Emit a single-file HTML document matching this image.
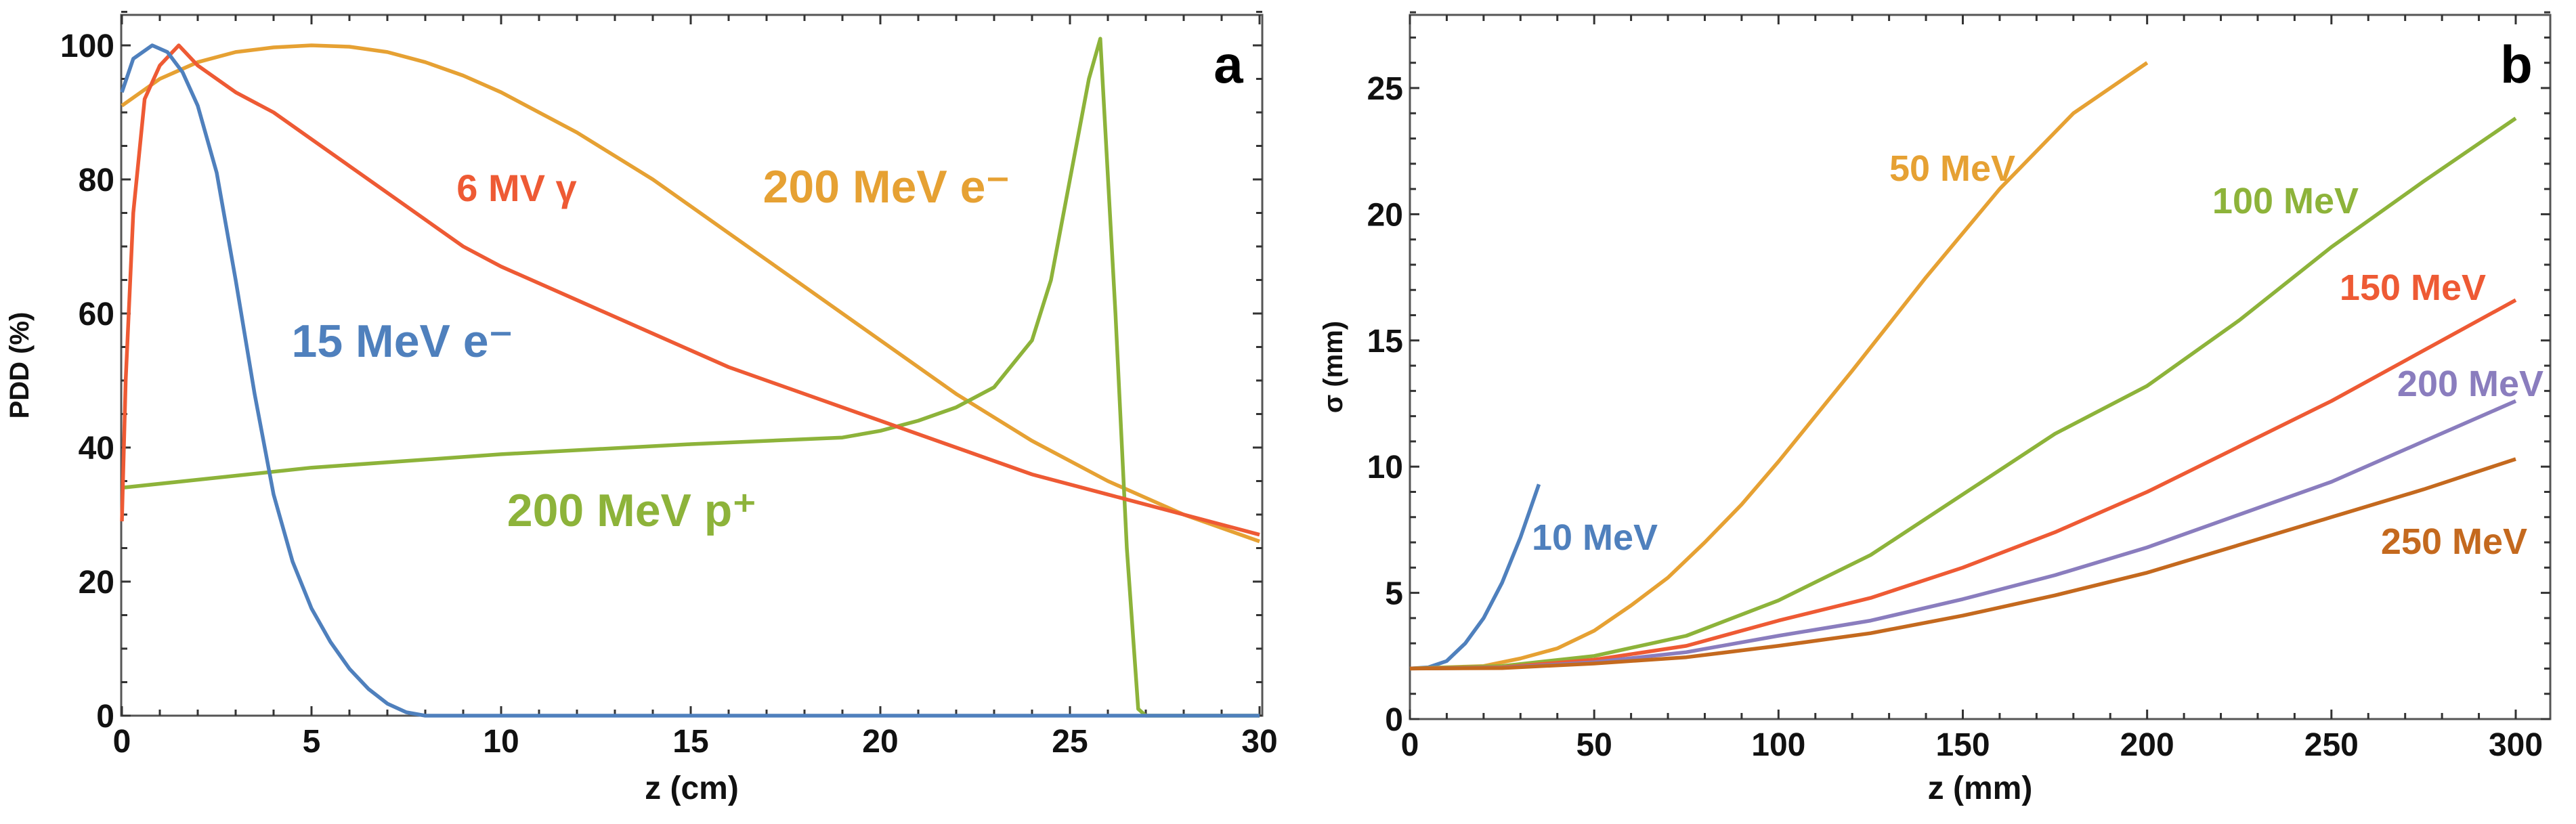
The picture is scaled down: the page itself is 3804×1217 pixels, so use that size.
<!DOCTYPE html>
<html><head><meta charset="utf-8">
<style>
html,body{margin:0;padding:0;background:#fff;}
svg{display:block;}
text{font-family:"Liberation Sans Narrow","Liberation Sans",sans-serif;font-weight:bold;}
</style></head>
<body>
<svg id="fig" width="3804" height="1217" viewBox="0 0 3804 1217" xmlns="http://www.w3.org/2000/svg"></svg>
<script>
// Panel a data
const aBlueX=[0,0.3,0.8,1.2,1.6,2,2.5,3,3.5,4,4.5,5,5.5,6,6.5,7,7.5,8,30];
const aBlueY=[93,98,100,99,96,91,81,65,48,33,23,16,11,7,4,1.8,0.5,0,0];
const aRedX=[0,0.1,0.3,0.6,1,1.5,2,3,4,5,6,7,8,9,10,12,14,16,18,20,22,24,26,28,30];
const aRedY=[29,50,75,92,97,100,97,93,90,86,82,78,74,70,67,62,57,52,48,44,40,36,33,30,27];
const aOrX=[0,1,2,3,4,5,6,7,8,9,10,12,14,16,18,20,22,24,26,28,30];
const aOrY=[91,95,97.5,99,99.7,100,99.8,99,97.5,95.5,93,87,80,72,64,56,48,41,35,30,26];
const aGrX=[0,5,10,15,19,20,21,22,23,24,24.5,25,25.5,25.8,26.2,26.5,26.8,27,30];
const aGrY=[34,37,39,40.5,41.5,42.5,44,46,49,56,65,80,95,101,60,25,1,0,0];
const aXTicks=[0,5,10,15,20,25,30];
const aYTicks=[0,20,40,60,80,100];
// Panel b data
const b10X=[0,5,10,15,20,25,30,35];
const b10Y=[2,2.05,2.3,3,4,5.4,7.2,9.3];
const b50X=[0,20,30,40,50,60,70,80,90,100,120,140,160,180,190,200];
const b50Y=[2,2.1,2.4,2.8,3.5,4.5,5.6,7,8.5,10.2,13.8,17.5,21,24,25,26];
const b100X=[0,25,50,75,100,125,150,175,200,225,250,275,300];
const b100Y=[2,2.1,2.5,3.3,4.7,6.5,8.9,11.3,13.2,15.8,18.7,21.3,23.8];
const b150X=[0,25,50,75,100,125,150,175,200,225,250,275,300];
const b150Y=[2,2.05,2.35,2.9,3.9,4.8,6,7.4,9,10.8,12.6,14.6,16.6];
const b200X=[0,25,50,75,100,125,150,175,200,225,250,275,300];
const b200Y=[2,2.03,2.25,2.65,3.3,3.9,4.75,5.7,6.8,8.1,9.4,11,12.6];
const b250X=[0,25,50,75,100,125,150,175,200,225,250,275,300];
const b250Y=[2,2.02,2.2,2.45,2.9,3.4,4.1,4.9,5.8,6.9,8,9.1,10.3];
const bXTicks=[0,50,100,150,200,250,300];
const bYTicks=[0,5,10,15,20,25];

const NS="http://www.w3.org/2000/svg";
const svg=document.getElementById('fig');
function mk(tag,attrs,parent){const e=document.createElementNS(NS,tag);for(const k in attrs)e.setAttribute(k,attrs[k]);(parent||svg).appendChild(e);return e;}

function panel(o){
  const g=mk('g',{});
  
  
  const sx=v=>o.x0+(v-o.xmin)/(o.xmax-o.xmin)*(o.x1-o.x0);
  const sy=v=>o.y0-(v-o.ymin)/(o.ymax-o.ymin)*(o.y0-o.y1);
  const fr=mk('rect',{x:o.L,y:o.T,width:o.R-o.L,height:o.B-o.T,fill:'none',stroke:'#555','stroke-width':3},g);
  
  
  for(let v=o.xmin;v<=o.xmax+1e-9;v+=o.xminor){const X=sx(v);const maj=Math.abs(v/o.xmajor-Math.round(v/o.xmajor))<1e-6;const l=maj?14:9;
    mk('line',{x1:X,y1:o.B,x2:X,y2:o.B-l,stroke:'#333','stroke-width':3},g);
    mk('line',{x1:X,y1:o.T,x2:X,y2:o.T+l,stroke:'#333','stroke-width':3},g);}
  for(let v=o.ymin;v<=o.ymaxT+1e-9;v+=o.yminor){const Y=sy(v);const maj=Math.abs(v/o.ymajor-Math.round(v/o.ymajor))<1e-6;const l=maj?14:9;
    mk('line',{x1:o.L,y1:Y,x2:o.L+l,y2:Y,stroke:'#333','stroke-width':3},g);
    mk('line',{x1:o.R,y1:Y,x2:o.R-l,y2:Y,stroke:'#333','stroke-width':3},g);}
  o.xt.forEach(v=>{const t=mk('text',{x:sx(v),y:o.B+54,'text-anchor':'middle','font-size':48,fill:'#111'},g);t.textContent=v;
    });
  o.yt.forEach(v=>{const t=mk('text',{x:o.L-10,y:sy(v)+17,'text-anchor':'end','font-size':48,fill:'#111'},g);t.textContent=v;
    });
  const xt=mk('text',{x:(o.L+o.R)/2,y:1180,'text-anchor':'middle','font-size':48,fill:'#111'},g);xt.textContent=o.xtitle;
  
  const yt=mk('text',{x:0,y:0,'text-anchor':'middle','font-size':40,fill:'#111',transform:`translate(${o.ytx},${(o.T+o.B)/2}) rotate(-90)`},g);yt.textContent=o.ytitle;
  
  const pl=mk('text',{x:o.R-50,y:o.T+100,'text-anchor':'middle','font-size':78,fill:'#000','font-family':'Liberation Sans'},g);pl.textContent=o.letter;
  
  o.series.forEach(s=>{
    const d=s.x.map((v,i)=>(i?'L':'M')+sx(v).toFixed(1)+','+sy(s.y[i]).toFixed(1)).join(' ');
    const p=mk('path',{d:d,fill:'none',stroke:s.c,'stroke-width':5.5,'stroke-linejoin':'round'},g);
    
  });
  o.labels.forEach(l=>{const t=mk('text',{x:l.x,y:l.y,'text-anchor':'middle','font-size':l.fs||64,fill:l.c},g);t.textContent=l.t;
    });
}

panel({name:'panel-a',L:179,R:1864,T:22,B:1057,x0:180,x1:1860,xmin:0,xmax:30,y0:1057,y1:67,ymin:0,ymax:100,ymaxT:105,
  xminor:1,xmajor:5,yminor:5,ymajor:20,xt:aXTicks,yt:aYTicks,xtitle:'z (cm)',ytitle:'PDD (%)',ytx:42,letter:'a',
  series:[{x:aOrX,y:aOrY,c:'#E6A133',name:'series-200mev-electron'},{x:aGrX,y:aGrY,c:'#8DB33A',name:'series-200mev-proton'},
          {x:aRedX,y:aRedY,c:'#EE5A34',name:'series-6mv-photon'},{x:aBlueX,y:aBlueY,c:'#4F80BD',name:'series-15mev-electron'}],
  labels:[{x:763,y:297,t:'6 MV γ',c:'#EE5A34',name:'label-6mv-photon',fs:56},{x:1309,y:299,t:'200 MeV e⁻',c:'#E6A133',name:'label-200mev-electron',fs:68},
          {x:594,y:527,t:'15 MeV e⁻',c:'#4F80BD',name:'label-15mev-electron',fs:68},{x:933,y:777,t:'200 MeV p⁺',c:'#8DB33A',name:'label-200mev-proton',fs:68}]});

panel({name:'panel-b',L:2082,R:3766,T:22,B:1062,x0:2082,x1:3715,xmin:0,xmax:300,y0:1062,y1:130,ymin:0,ymax:25,ymaxT:28,
  xminor:10,xmajor:50,yminor:1,ymajor:5,xt:bXTicks,yt:bYTicks,xtitle:'z (mm)',ytitle:'σ (mm)',ytx:1982,letter:'b',
  series:[{x:b10X,y:b10Y,c:'#4F80BD',name:'series-10mev'},{x:b50X,y:b50Y,c:'#E6A133',name:'series-50mev'},
          {x:b100X,y:b100Y,c:'#8DB33A',name:'series-100mev'},{x:b150X,y:b150Y,c:'#EE5A34',name:'series-150mev'},
          {x:b200X,y:b200Y,c:'#8A7DBE',name:'series-200mev'},{x:b250X,y:b250Y,c:'#C4691E',name:'series-250mev'}],
  labels:[{x:2883,y:267,t:'50 MeV',c:'#E6A133',name:'label-50mev',fs:54},{x:3375,y:315,t:'100 MeV',c:'#8DB33A',name:'label-100mev',fs:54},
          {x:3563,y:443,t:'150 MeV',c:'#EE5A34',name:'label-150mev',fs:54},{x:3648,y:585,t:'200 MeV',c:'#8A7DBE',name:'label-200mev',fs:54},
          {x:2355,y:812,t:'10 MeV',c:'#4F80BD',name:'label-10mev',fs:54},{x:3624,y:818,t:'250 MeV',c:'#C4691E',name:'label-250mev',fs:54}]});
</script>
</body></html>
